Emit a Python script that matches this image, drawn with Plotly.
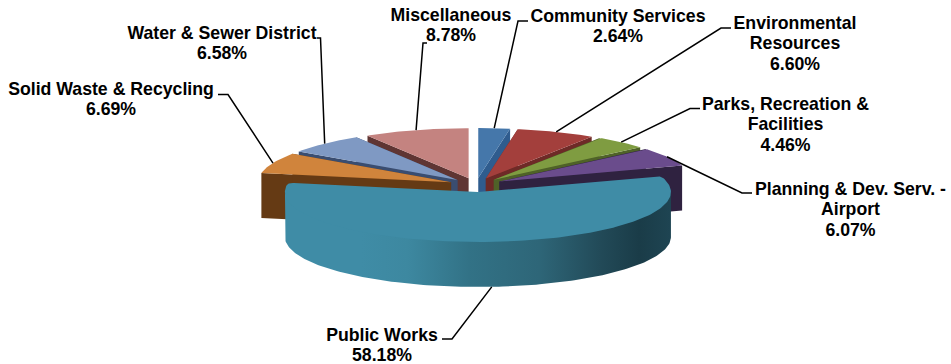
import numpy as np
import plotly.graph_objects as go

# Budget shares in clockwise order, starting from twelve o'clock
departments = ["Community Services", "Environmental Resources", "Parks, Recreation & Facilities",
               "Planning & Dev. Serv. - Airport", "Public Works", "Solid Waste & Recycling",
               "Water & Sewer District", "Miscellaneous"]
shares = [2.64, 6.60, 4.46, 6.07, 58.18, 6.69, 6.58, 8.78]
label_lines = [["Community Services"], ["Environmental", "Resources"], ["Parks, Recreation &", "Facilities"],
               ["Planning & Dev. Serv. -", "Airport"], ["Public Works"], ["Solid Waste & Recycling"],
               ["Water & Sewer District"], ["Miscellaneous"]]

top_colors = ["#4577aa", "#a33f3c", "#7f9c41", "#6a4c8c", "#3f8ca6", "#d0843c", "#7f99c3", "#c48380"]
wall_colors = ["#2f5c8e", "#6e2a27", "#4f6228", "#2f2240", "#1f4d5c", "#653a14", "#3a4d70", "#5f3533"]

# Pie geometry on a pixel-sized plotting area
CX, CY = 476.0, 185.0
RX, RY = 193.0, 50.0
EXPLODE_X, EXPLODE_Y = 27.0, 7.0
DEPTH = 45.0
RIM_OVERLAP = 2.0  # the rim runs slightly under the top face so no seam shows

# Label placement: centre x, first line y
label_x = [618, 795, 785.5, 850.5, 382, 111, 222, 451]
label_y = [17.5, 24.5, 105.5, 190.5, 336.5, 90.5, 34.5, 16.5]
LINE_H = 20.4
# Leader elbows and their short horizontal ends
elbows = [(518, 21), (721, 28), (690, 108.5), (742, 193), (452, 339), (228, 94.5), (320.5, 38), (423, 43)]
ends = [(528, 21), (731, 28), (700, 108.5), (752, 193), (442, 339), (218, 94.5), (317, 38), (427, 43)]

fractions = np.cumsum([0] + shares) / sum(shares)
angles = fractions * 2 * np.pi


def point(ax, ay, theta):
    return ax + RX * np.sin(theta), ay - RY * np.cos(theta)


def polygon(xs, ys, color, gradient=None):
    trace = dict(x=list(xs) + [xs[0]], y=list(ys) + [ys[0]], mode="lines", fill="toself",
                 line=dict(width=0), hoverinfo="skip", showlegend=False)
    if gradient:
        trace["fillgradient"] = gradient
    else:
        trace["fillcolor"] = color
    return go.Scatter(**trace)


def rounded_top(ax, ay, a0, a1, cut=0.05, radial=0.03):
    """Top face of a large slice with softened outer corners (quadratic blends)."""
    t = np.linspace(0, 1, 12)[:, None]
    arc = np.linspace(a0 + cut, a1 - cut, 160)
    ox, oy = point(ax, ay, arc)
    apex = np.array([ax, ay])

    def blend(edge, arc_end, reverse):
        corner = np.array(point(ax, ay, edge))
        inner = corner + (apex - corner) * radial
        p = (1 - t) ** 2 * inner + 2 * t * (1 - t) * corner + t ** 2 * np.array(arc_end)
        return p[::-1] if reverse else p

    start = blend(a0, (ox[0], oy[0]), False)
    stop = blend(a1, (ox[-1], oy[-1]), True)
    xs = [ax] + list(start[:, 0]) + list(ox) + list(stop[:, 0])
    ys = [ay] + list(start[:, 1]) + list(oy) + list(stop[:, 1])
    return xs, ys


fig = go.Figure()
mids = (angles[:-1] + angles[1:]) / 2
slices = []
for i in range(len(shares)):
    ax = CX + EXPLODE_X * np.sin(mids[i])
    ay = CY - EXPLODE_Y * np.cos(mids[i])
    slices.append((ax, ay, angles[i], angles[i + 1]))

# Painter's order: farthest slices first
for i in sorted(range(len(shares)), key=lambda k: -np.cos(mids[k])):
    ax, ay, a0, a1 = slices[i]
    large = a1 - a0 > np.pi
    if not large:
        for edge in (a0, a1):
            ex, ey = point(ax, ay, edge)
            fig.add_trace(polygon([ax, ex, ex, ax], [ay, ey, ey + DEPTH, ay + DEPTH], wall_colors[i]))

    # The rim is only seen on the front half of the ellipse
    f0, f1 = max(a0, np.pi / 2), min(a1, 3 * np.pi / 2)
    if f1 > f0:
        front = np.linspace(f0, f1, 160)
        fx, fy = point(ax, ay, front)
        gradient = None
        if large:
            # The big slice's rim is lit from the left and falls into shadow on the right
            gradient = dict(type="horizontal", start=284, stop=670,
                            colorscale=[[0, "#3f8ca6"], [0.2, "#3f8ca6"], [0.32, "#3d88a0"],
                                        [0.48, "#327286"], [0.66, "#2e6678"], [0.82, "#224a58"],
                                        [0.92, "#1a3c48"], [1, "#1e4452"]])
        fig.add_trace(polygon(list(fx) + list(fx[::-1]), list(fy - RIM_OVERLAP) + list(fy[::-1] + DEPTH),
                              wall_colors[i], gradient))

    if large:
        tx, ty = rounded_top(ax, ay, a0, a1)
    else:
        arc = np.linspace(a0, a1, 40)
        ox, oy = point(ax, ay, arc)
        tx, ty = [ax] + list(ox), [ay] + list(oy)
    fig.add_trace(polygon(tx, ty, top_colors[i]))

# Leader lines from the outer rim of each slice to its label
for i, (ax, ay, a0, a1) in enumerate(slices):
    sx, sy = point(ax, ay, mids[i])
    if np.cos(mids[i]) < 0:
        sy += DEPTH
    fig.add_trace(go.Scatter(x=[sx, elbows[i][0], ends[i][0]], y=[sy, elbows[i][1], ends[i][1]], mode="lines",
                             line=dict(color="#000000", width=1.5), hoverinfo="skip", showlegend=False))

# Labels: department name lines followed by the percentage
text_x, text_y, text_s = [], [], []
for i, lines in enumerate(label_lines):
    for j, line in enumerate(lines + [f"{shares[i]:.2f}%"]):
        text_x.append(label_x[i])
        text_y.append(label_y[i] + j * LINE_H)
        text_s.append(line)
fig.add_trace(go.Scatter(x=text_x, y=text_y, text=text_s, mode="text", textposition="middle center",
                         textfont=dict(family="Liberation Sans", size=17.7, color="#000000"),
                         texttemplate="<b>%{text}</b>", hoverinfo="skip", showlegend=False))

fig.update_layout(width=951, height=364, margin=dict(l=0, r=0, t=0, b=0), autosize=False,
                  paper_bgcolor="#ffffff", plot_bgcolor="#ffffff",
                  xaxis=dict(range=[0, 951], visible=False, fixedrange=True),
                  yaxis=dict(range=[364, 0], visible=False, fixedrange=True))
fig.write_html("out.html", config={"displayModeBar": False})
